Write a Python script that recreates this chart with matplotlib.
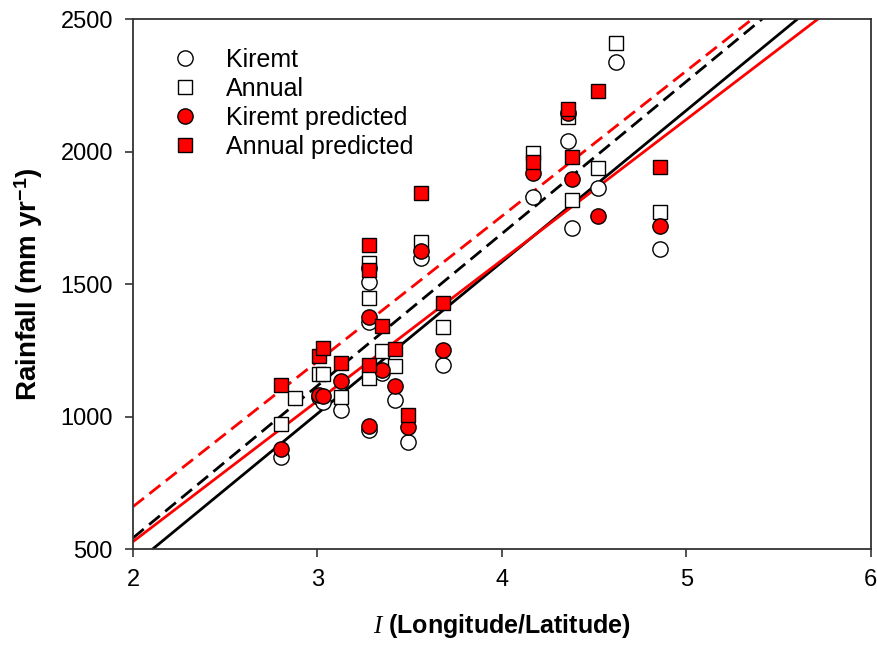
import matplotlib
matplotlib.use("Agg")
import matplotlib.pyplot as plt
import numpy as np

plt.rcParams['font.family'] = ['Liberation Sans', 'DejaVu Sans']
plt.rcParams['mathtext.fontset'] = 'custom'
plt.rcParams['mathtext.rm'] = 'Liberation Sans'
plt.rcParams['mathtext.it'] = 'Liberation Serif:italic'
plt.rcParams['mathtext.bf'] = 'Liberation Sans:bold'

# observed kiremt rainfall
kiremt_x = [2.80, 3.01, 3.03, 3.13, 3.28, 3.28, 3.28, 3.28, 3.35, 3.42, 3.49,
            3.56, 3.68, 4.17, 4.36, 4.38, 4.52, 4.62, 4.86]
kiremt_y = [850, 1075, 1057, 1027, 1562, 1510, 1358, 952, 1165, 1065, 903,
            1600, 1197, 1829, 2040, 1713, 1863, 2338, 1634]

# observed annual rainfall
annual_x = [2.80, 2.88, 3.01, 3.03, 3.13, 3.28, 3.28, 3.28, 3.35, 3.42,
            3.56, 3.68, 4.17, 4.36, 4.38, 4.52, 4.62, 4.86]
annual_y = [974, 1072, 1160, 1160, 1076, 1581, 1449, 1148, 1250, 1190,
            1660, 1340, 1995, 2131, 1818, 1938, 2409, 1773]

# predicted kiremt
kiremt_pred_x = [2.80, 3.01, 3.03, 3.13, 3.28, 3.28, 3.35, 3.42, 3.49,
                 3.56, 3.68, 4.17, 4.36, 4.38, 4.52, 4.86]
kiremt_pred_y = [877, 1084, 1080, 1136, 1377, 967, 1178, 1117, 963,
                 1626, 1253, 1920, 2146, 1897, 1758, 1720]

# predicted annual
annual_pred_x = [2.80, 3.01, 3.03, 3.13, 3.28, 3.28, 3.28, 3.35, 3.42, 3.49,
                 3.56, 3.68, 4.17, 4.36, 4.38, 4.52, 4.86]
annual_pred_y = [1121, 1231, 1261, 1204, 1649, 1554, 1197, 1344, 1257, 1008,
                 1845, 1430, 1961, 2161, 1980, 2229, 1942]

# fitted lines: slope, intercept
fit_kiremt = (572, -704)
fit_annual = (574, -605)
fit_kiremt_pred = (531, -533)
fit_annual_pred = (548, -435)

fig = plt.figure(figsize=(8.77, 6.45), dpi=100)
ax = fig.add_axes([0.1517, 0.1484, 0.8411, 0.8217])

xx = np.array([2.0, 6.0])
lw = 2.0
ax.plot(xx, fit_kiremt[0] * xx + fit_kiremt[1], color='black', lw=lw, zorder=1)
ax.plot(xx, fit_annual[0] * xx + fit_annual[1], color='black', lw=lw,
        dashes=(5, 2.5), zorder=1)
ax.plot(xx, fit_kiremt_pred[0] * xx + fit_kiremt_pred[1], color='red', lw=lw, zorder=1)
ax.plot(xx, fit_annual_pred[0] * xx + fit_annual_pred[1], color='red', lw=lw,
        dashes=(5, 2.5), zorder=1)

ms = 11
ax.plot(kiremt_x, kiremt_y, 'o', ms=ms, mfc='white', mec='black', mew=1.0,
        label='Kiremt', zorder=3)
ax.plot(annual_x, annual_y, 's', ms=ms - 1, mfc='white', mec='black', mew=1.0,
        label='Annual', zorder=3)
ax.plot(kiremt_pred_x, kiremt_pred_y, 'o', ms=ms, mfc='red', mec='black', mew=1.0,
        label='Kiremt predicted', zorder=4)
ax.plot(annual_pred_x, annual_pred_y, 's', ms=ms - 1, mfc='red', mec='black', mew=1.0,
        label='Annual predicted', zorder=4)

ax.set_xlim(2, 6)
ax.set_ylim(500, 2500)
ax.set_xticks([2, 3, 4, 5, 6])
ax.set_yticks([500, 1000, 1500, 2000, 2500])

for s in ax.spines.values():
    s.set_color('#333333')
    s.set_linewidth(1.3)
ax.tick_params(direction='out', length=5.5, width=1.2, color='#333333',
               labelsize=17, pad=9, top=False, right=False)

ax.set_xlabel(r'$\mathit{I}$ (Longitude/Latitude)', fontsize=18,
              fontweight='bold', labelpad=15)
ax.set_ylabel(r'Rainfall (mm yr$^{\mathbf{-1}}$)', fontsize=20,
              fontweight='bold', labelpad=11)

ax.legend(loc='upper left', bbox_to_anchor=(0.036, 0.97), frameon=False,
          fontsize=18, handlelength=1.0, handletextpad=1.15, labelspacing=0.2,
          borderpad=0, numpoints=1)

fig.savefig('out.png', dpi=100)
